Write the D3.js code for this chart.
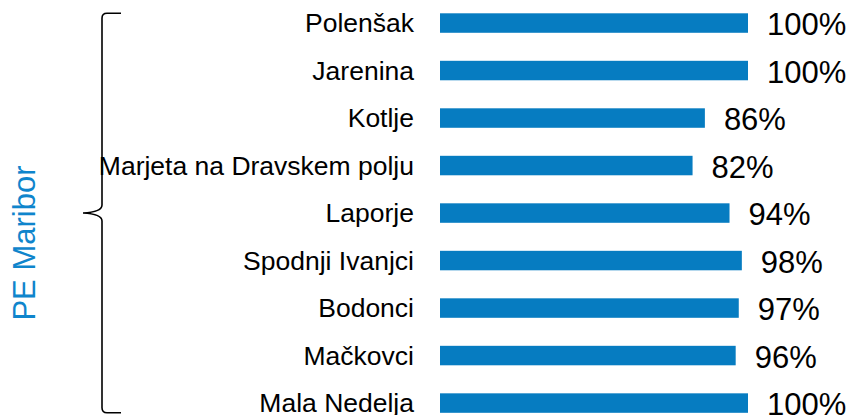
<!DOCTYPE html>
<html lang="sl">
<head>
<meta charset="UTF-8">
<title>PE Maribor</title>
<script src="https://d3js.org/d3.v7.min.js"></script>
<style>
  body { margin: 0; background: #fff; }
  svg { display: block; font-family: "Liberation Sans", Arial, sans-serif; }
</style>
</head>
<body>
<svg id="chart" width="854" height="415"></svg>
<script>
// podatki
const categories = ["Polenšak", "Jarenina", "Kotlje", "Marjeta na Dravskem polju", "Laporje",
  "Spodnji Ivanjci", "Bodonci", "Mačkovci", "Mala Nedelja"];
const values = [100, 100, 86, 82, 94, 98, 97, 96, 100];
const groupLabel = "PE Maribor";

const data = categories.map((c, i) => ({ name: c, value: values[i] }));

const svg = d3.select("#chart");

const blue = "#067cc1";

const x = d3.scaleLinear().domain([0, 100]).range([440, 748]);
const y = d3.scaleBand()
  .domain(categories)
  .range([13.3, 412.8])
  .paddingInner(0.59)
  .paddingOuter(0);

// stolpci
svg.selectAll(".bar")
  .data(data)
  .enter().append("rect")
  .attr("class", "bar")
  .attr("x", x(0))
  .attr("y", d => y(d.name))
  .attr("width", d => x(d.value) - x(0))
  .attr("height", y.bandwidth())
  .attr("fill", blue);

// imena kategorij
svg.selectAll(".cat")
  .data(data)
  .enter().append("text")
  .attr("class", "cat")
  .attr("x", 414)
  .attr("y", d => y(d.name) + y.bandwidth() / 2 + 9)
  .attr("text-anchor", "end")
  .style("font-size", "26.5px")
  .style("fill", "#000")
  .text(d => d.name);

// vrednosti
svg.selectAll(".val")
  .data(data)
  .enter().append("text")
  .attr("class", "val")
  .attr("x", d => x(d.value) + 19)
  .attr("y", d => y(d.name) + y.bandwidth() / 2 + 12)
  .style("font-size", "31px")
  .style("fill", "#000")
  .text(d => d.value + "%");

// oklepaj
const braceTop = y.range()[0], braceBot = y.range()[1];
const mid = (braceTop + braceBot) / 2;
const bx = 102, tipX = 83, endX = 121;
const brace = d3.path();
brace.moveTo(endX, braceTop);
brace.lineTo(bx + 5, braceTop);
brace.quadraticCurveTo(bx, braceTop, bx, braceTop + 5);
brace.lineTo(bx, mid - 8);
brace.quadraticCurveTo(bx, mid - 1, tipX, mid);
brace.quadraticCurveTo(bx, mid + 1, bx, mid + 8);
brace.lineTo(bx, braceBot - 5);
brace.quadraticCurveTo(bx, braceBot, bx + 5, braceBot);
brace.lineTo(endX, braceBot);

svg.append("path")
  .attr("d", brace.toString())
  .attr("fill", "none")
  .attr("stroke", "#000")
  .attr("stroke-width", 1.6);

// naziv skupine
svg.append("text")
  .attr("transform", "translate(35," + (mid + 30) + ") rotate(-90)")
  .attr("text-anchor", "middle")
  .style("font-size", "31px")
  .style("fill", "#0f85cc")
  .text(groupLabel);
</script>
</body>
</html>
